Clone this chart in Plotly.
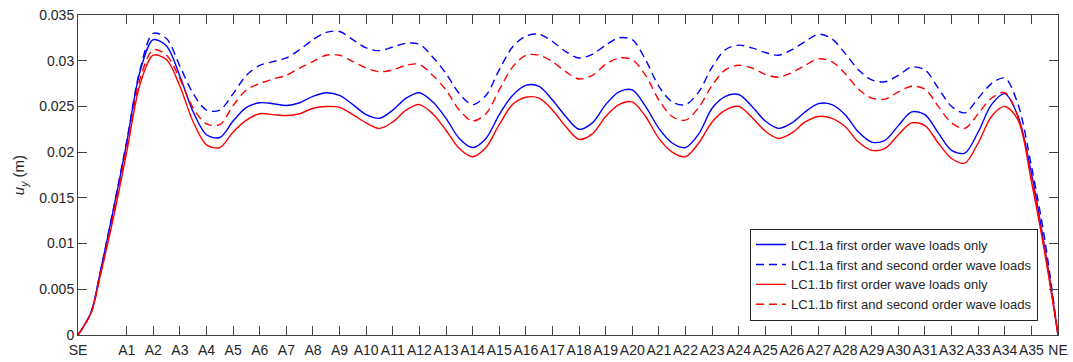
import plotly.graph_objects as go

# Stations along the alignment (x position in station units)
station_labels = ["SE"] + [f"A{k}" for k in range(1, 36)] + ["NE"]
station_pos = [0.0] + [0.83 + k for k in range(1, 36)] + [36.83]

# Sample positions of the displacement results
x_pos = [0, 0.49, 0.83, 1.33, 1.83, 2.33, 2.83, 3.33, 3.83, 4.33, 4.83, 5.33,
         5.83, 6.33, 6.83, 7.33, 7.83, 8.33, 8.83, 9.33, 9.83, 10.33, 10.83,
         11.33, 11.83, 12.33, 12.83, 13.33, 13.83, 14.33, 14.83, 15.33, 15.83,
         16.33, 16.83, 17.33, 17.83, 18.33, 18.83, 19.33, 19.83, 20.33, 20.83,
         21.33, 21.83, 22.33, 22.83, 23.33, 23.83, 24.33, 24.83, 25.33, 25.83,
         26.33, 26.83, 27.33, 27.83, 28.33, 28.83, 29.33, 29.83, 30.33, 30.83,
         31.33, 31.83, 32.33, 32.83, 33.33, 33.83, 34.33, 34.83, 35.33, 35.83,
         36.33, 36.83]

# u_y (m), LC1.1a first order wave loads only
lc11a_first = [0, 0.0025, 0.0068, 0.0137,
               0.0210, 0.0288, 0.0323, 0.0316, 0.0283, 0.0244, 0.0219, 0.0216,
               0.0234, 0.0249, 0.0254, 0.0253, 0.0251, 0.0254, 0.0261, 0.0265,
               0.0262, 0.0252, 0.0241, 0.0237, 0.0246, 0.0259, 0.0265, 0.0255,
               0.0237, 0.0215, 0.0205, 0.0215, 0.0241, 0.0262, 0.0273, 0.0272,
               0.0257, 0.0239, 0.0225, 0.0232, 0.0252, 0.0266, 0.0268, 0.0250,
               0.0226, 0.0210, 0.0205, 0.0220, 0.0248, 0.0261, 0.0263, 0.0250,
               0.0234, 0.0226, 0.0232, 0.0244, 0.0253, 0.0252, 0.0241, 0.0222,
               0.0211, 0.0213, 0.0229, 0.0244, 0.0241, 0.0221, 0.0202, 0.0199,
               0.0222, 0.0252, 0.0264, 0.0239, 0.0177, 0.0095, 0]

# u_y (m), LC1.1a first and second order wave loads
lc11a_second = [0, 0.0025, 0.0068, 0.0138,
                0.0212, 0.0290, 0.0330, 0.0324, 0.0294, 0.0264, 0.0246, 0.0246,
                0.0264, 0.0284, 0.0295, 0.0299, 0.0303, 0.0312, 0.0323, 0.0331,
                0.0332, 0.0323, 0.0314, 0.0311, 0.0315, 0.0319, 0.0318, 0.0304,
                0.0286, 0.0264, 0.0252, 0.0262, 0.0290, 0.0315, 0.0327, 0.0329,
                0.0321, 0.0310, 0.0303, 0.0307, 0.0317, 0.0325, 0.0323, 0.0301,
                0.0272, 0.0255, 0.0252, 0.0266, 0.0293, 0.0312, 0.0317, 0.0314,
                0.0309, 0.0306, 0.0312, 0.0321, 0.0329, 0.0324, 0.0308, 0.0290,
                0.0279, 0.0277, 0.0284, 0.0293, 0.0290, 0.0270, 0.0250, 0.0243,
                0.0259, 0.0275, 0.0281, 0.0252, 0.0185, 0.0105, 0]

# u_y (m), LC1.1b first order wave loads only
lc11b_first = [0, 0.0024, 0.0064, 0.0128,
               0.0200, 0.0274, 0.0306, 0.0301, 0.0272, 0.0233, 0.0208, 0.0205,
               0.0222, 0.0235, 0.0242, 0.0241, 0.0240, 0.0242, 0.0248, 0.0250,
               0.0249, 0.0241, 0.0232, 0.0226, 0.0233, 0.0246, 0.0252, 0.0242,
               0.0224, 0.0204, 0.0195, 0.0205, 0.0230, 0.0252, 0.0260, 0.0259,
               0.0246, 0.0228, 0.0214, 0.0220, 0.0239, 0.0252, 0.0255, 0.0239,
               0.0215, 0.0200, 0.0195, 0.0210, 0.0233, 0.0246, 0.0250, 0.0238,
               0.0223, 0.0215, 0.0221, 0.0233, 0.0239, 0.0237, 0.0228, 0.0211,
               0.0202, 0.0204, 0.0219, 0.0232, 0.0229, 0.0210, 0.0193, 0.0188,
               0.0210, 0.0239, 0.0250, 0.0235, 0.0168, 0.0090, 0]

# u_y (m), LC1.1b first and second order wave loads
lc11b_second = [0, 0.0024, 0.0065, 0.0132,
                0.0205, 0.0280, 0.0312, 0.0306, 0.0280, 0.0248, 0.0231, 0.0230,
                0.0251, 0.0268, 0.0275, 0.0280, 0.0284, 0.0292, 0.0299, 0.0306,
                0.0306, 0.0299, 0.0292, 0.0288, 0.0290, 0.0295, 0.0296, 0.0284,
                0.0268, 0.0246, 0.0234, 0.0242, 0.0268, 0.0293, 0.0306, 0.0306,
                0.0299, 0.0288, 0.0280, 0.0284, 0.0296, 0.0303, 0.0301, 0.0284,
                0.0257, 0.0239, 0.0235, 0.0249, 0.0273, 0.0290, 0.0295, 0.0292,
                0.0285, 0.0282, 0.0287, 0.0295, 0.0302, 0.0299, 0.0286, 0.0269,
                0.0259, 0.0258, 0.0266, 0.0272, 0.0269, 0.0250, 0.0232, 0.0226,
                0.0242, 0.0259, 0.0265, 0.0239, 0.0173, 0.0095, 0]

y_ticks = [0, 0.005, 0.01, 0.015, 0.02, 0.025, 0.03, 0.035]
y_tick_text = ["0", "0.005", "0.01", "0.015", "0.02", "0.025", "0.03", "0.035"]

series = [
    ("LC1.1a first order wave loads only", lc11a_first, "#0000ff", "solid"),
    ("LC1.1a first and second order wave loads", lc11a_second, "#0000ff", "8px,5px"),
    ("LC1.1b first order wave loads only", lc11b_first, "#ff0000", "solid"),
    ("LC1.1b first and second order wave loads", lc11b_second, "#ff0000", "8px,5px"),
]

fig = go.Figure()
for name, vals, color, dash in series:
    fig.add_trace(go.Scatter(
        x=x_pos, y=vals, name=name, mode="lines",
        line=dict(color=color, width=1.4, dash=dash, shape="spline", smoothing=0.9),
    ))

font_family = "Liberation Sans, Arial, sans-serif"
axis_color = "#404040"
text_color = "#262626"

fig.update_layout(
    width=1073, height=362,
    margin=dict(l=78, r=15, t=15, b=27),
    paper_bgcolor="white", plot_bgcolor="white",
    font=dict(family=font_family, size=14, color=text_color),
    showlegend=True,
    legend=dict(
        x=0.9796, y=0.045, xanchor="right", yanchor="bottom",
        bgcolor="white", bordercolor=text_color, borderwidth=1,
        font=dict(family=font_family, size=13, color=text_color),
        tracegroupgap=0,
    ),
)

fig.update_xaxes(
    range=[0, 36.83], tickmode="array", tickvals=station_pos, ticktext=station_labels,
    tickangle=0, automargin=False, ticklabelstandoff=2,
    ticks="inside", ticklen=9, tickcolor=axis_color, tickwidth=1,
    showline=True, linecolor=axis_color, linewidth=1, mirror="ticks",
    showgrid=False, zeroline=False,
    tickfont=dict(size=14, color=text_color),
)
fig.update_yaxes(
    range=[0, 0.035], tickmode="array", tickvals=y_ticks, ticktext=y_tick_text,
    automargin=False,
    ticks="inside", ticklen=9, tickcolor=axis_color, tickwidth=1,
    showline=True, linecolor=axis_color, linewidth=1, mirror="ticks",
    showgrid=False, zeroline=False,
    tickfont=dict(size=14, color=text_color),
    title=dict(text="<i>u</i><sub><i>y</i></sub> (m)", font=dict(size=15, color=text_color), standoff=10),
)

fig.write_html("out.html")
